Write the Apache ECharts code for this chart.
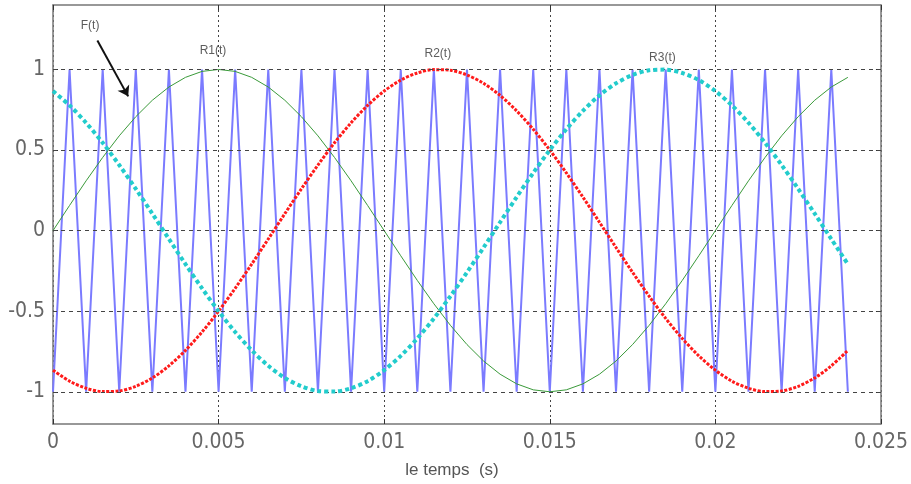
<!DOCTYPE html>
<html><head><meta charset="utf-8">
<script src="https://cdn.jsdelivr.net/npm/echarts@6/dist/echarts.min.js"></script>
<style>html,body{margin:0;padding:0;background:#fff}#c{width:911px;height:484px}</style>
</head><body><div id="c"></div>
<script>
// time samples (s)
const times = [0,0.0005,0.001,0.0015,0.002,0.0025,0.003,0.0035,0.004,0.0045,0.005,0.0055,0.006,0.0065,0.007,0.0075,0.008,0.0085,0.009,0.0095,0.01,0.0105,0.011,0.0115,0.012,0.0125,0.013,0.0135,0.014,0.0145,0.015,0.0155,0.016,0.0165,0.017,0.0175,0.018,0.0185,0.019,0.0195,0.02,0.0205,0.021,0.0215,0.022,0.0225,0.023,0.0235,0.024];
// carrier F(t)
const carrierF = [-1,1,-1,1,-1,1,-1,1,-1,1,-1,1,-1,1,-1,1,-1,1,-1,1,-1,1,-1,1,-1,1,-1,1,-1,1,-1,1,-1,1,-1,1,-1,1,-1,1,-1,1,-1,1,-1,1,-1,1,-1];
// references
const refR1 = [0,0.156,0.309,0.454,0.588,0.707,0.809,0.891,0.951,0.988,1,0.988,0.951,0.891,0.809,0.707,0.588,0.454,0.309,0.156,0,-0.156,-0.309,-0.454,-0.588,-0.707,-0.809,-0.891,-0.951,-0.988,-1,-0.988,-0.951,-0.891,-0.809,-0.707,-0.588,-0.454,-0.309,-0.156,0,0.156,0.309,0.454,0.588,0.707,0.809,0.891,0.951];
const refR2 = [-0.866,-0.934,-0.978,-0.999,-0.995,-0.966,-0.914,-0.839,-0.743,-0.629,-0.5,-0.358,-0.208,-0.052,0.105,0.259,0.407,0.545,0.669,0.777,0.866,0.934,0.978,0.999,0.995,0.966,0.914,0.839,0.743,0.629,0.5,0.358,0.208,0.052,-0.105,-0.259,-0.407,-0.545,-0.669,-0.777,-0.866,-0.934,-0.978,-0.999,-0.995,-0.966,-0.914,-0.839,-0.743];
const refR3 = [0.866,0.777,0.669,0.545,0.407,0.259,0.105,-0.052,-0.208,-0.358,-0.5,-0.629,-0.743,-0.839,-0.914,-0.966,-0.995,-0.999,-0.978,-0.934,-0.866,-0.777,-0.669,-0.545,-0.407,-0.259,-0.105,0.052,0.208,0.358,0.5,0.629,0.743,0.839,0.914,0.966,0.995,0.999,0.978,0.934,0.866,0.777,0.669,0.545,0.407,0.259,0.105,-0.052,-0.208];
const yTicks = [-1,-0.5,0,0.5,1];
const xLabel = 'le temps  (s)';
const annotNames = ['F(t)','R1(t)','R2(t)','R3(t)'];
const annotT = [0.00112,0.00483,0.01162,0.0184];
const annotY = [1.27,1.115,1.10,1.07];
const arrowT = [0.00134,0.00227];
const arrowY = [1.18,0.833];

const pair = arr => times.map((t,i)=>[t,arr[i]]);
const font = '"Liberation Sans Narrow", "DejaVu Sans Condensed", "Liberation Sans", sans-serif';
const frame = {show:true, lineStyle:{color:'#777', width:1.5}};
const tickStyle = {show:true, inside:true, length:5, lineStyle:{color:'#333'}};
const chart = echarts.init(document.getElementById('c'), null, {renderer:'canvas'});
chart.setOption({
  animation:false,
  backgroundColor:'#fff',
  grid:{left:53, right:29, top:5, bottom:60, show:false},
  xAxis:[{
    type:'value', min:0, max:0.025, interval:0.005,
    axisLine:{...frame, onZero:false},
    axisTick:tickStyle,
    axisLabel:{color:'#666', fontFamily:font, fontSize:21, margin:8},
    splitLine:{show:true, lineStyle:{color:'#444', type:[2,3], width:1}},
    name:xLabel, nameLocation:'middle', nameGap:38,
    nameTextStyle:{color:'#555', fontFamily:'"Liberation Sans", sans-serif', fontSize:17, padding:[0,30,0,0]}
  },{
    type:'value', position:'top', min:0, max:0.025, interval:0.005,
    axisLine:{...frame, onZero:false},
    axisTick:tickStyle,
    axisLabel:{show:false}, splitLine:{show:false}
  }],
  yAxis:[{
    type:'value', min:-1.2, max:1.4,
    axisLine:{...frame, onZero:false},
    axisTick:{...tickStyle, customValues:yTicks},
    axisLabel:{color:'#666', fontFamily:font, fontSize:21, margin:8, customValues:yTicks},
    splitLine:{show:false}
  },{
    type:'value', position:'right', min:-1.2, max:1.4,
    axisLine:{...frame, onZero:false},
    axisTick:{...tickStyle, customValues:yTicks},
    axisLabel:{show:false, customValues:yTicks}, splitLine:{show:false}
  }],
  series:[
    {type:'line', name:'F(t)', data:pair(carrierF), showSymbol:false, z:2,
     lineStyle:{color:'#7b7bff', width:2},
     markLine:{silent:true, symbol:['none','none'], label:{show:false},
       lineStyle:{color:'#444', type:[4,4], width:1},
       data: yTicks.map(v=>({yAxis:v}))}
    },
    {type:'line', name:'R1(t)', data:pair(refR1), showSymbol:false, z:3,
     lineStyle:{color:'#3a9a3a', width:1}},
    {type:'line', name:'R2(t)', data:pair(refR2), showSymbol:false, z:4, smooth:0.3,
     lineStyle:{color:'#ff1a1a', width:3, type:[3,1.5]}},
    {type:'line', name:'R3(t)', data:pair(refR3), showSymbol:false, z:5, smooth:0.3,
     lineStyle:{color:'#22cccc', width:4, type:[4,3]},
     markLine:{silent:true, symbol:['none','arrow'], symbolSize:10, label:{show:false},
       lineStyle:{color:'#111', width:2, type:'solid'},
       data:[[{coord:[arrowT[0],arrowY[0]]},{coord:[arrowT[1],arrowY[1]]}]]}
    },
    {type:'scatter', name:'labels', z:6, silent:true, symbol:'circle', symbolSize:1,
     itemStyle:{color:'rgba(0,0,0,0)'},
     data: annotNames.map((n,i)=>({name:n, value:[annotT[i], annotY[i]]})),
     label:{show:true, position:'inside', color:'#333', fontFamily:'"Liberation Sans", sans-serif', fontSize:12, formatter:p=>p.name}
    }
  ]
});
</script></body></html>
